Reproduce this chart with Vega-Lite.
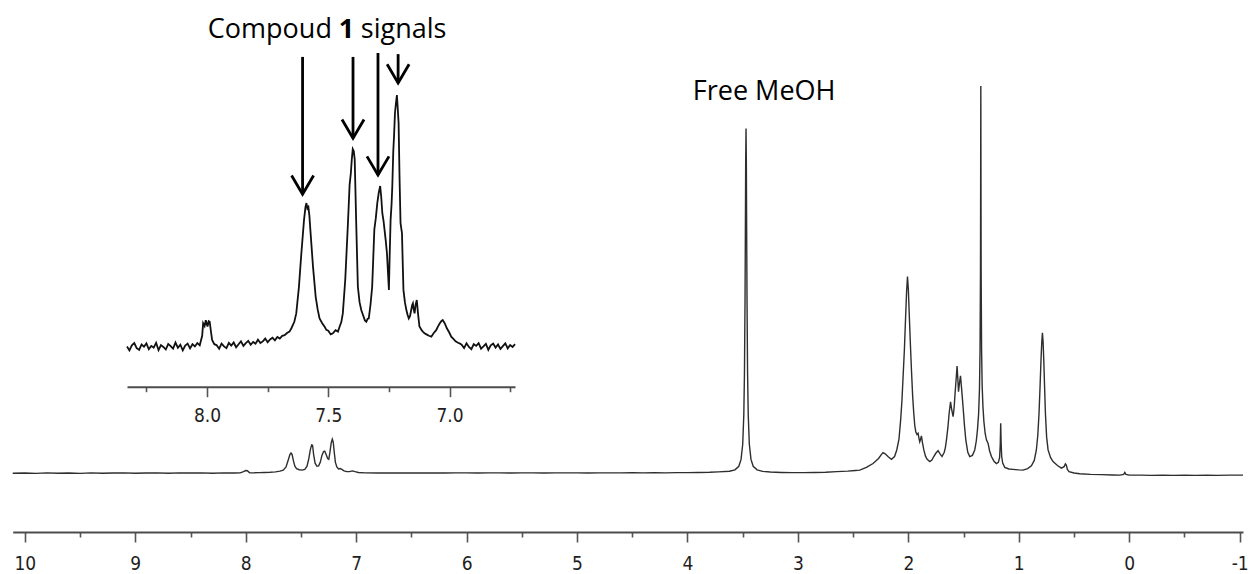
{
  "$schema": "https://vega.github.io/schema/vega-lite/v6.json",
  "width": 1251,
  "height": 532,
  "autosize": {"type": "none"},
  "padding": {"left": 0, "top": 0, "right": 0, "bottom": 42},
  "background": "white",
  "config": {"view": {"stroke": null}},
  "datasets": {
    "main": [
      {"ppm":10.11,"i":0.2},{"ppm":10.0,"i":0.25},{"ppm":9.9,"i":0.15},{"ppm":9.8,"i":0.3},{"ppm":9.7,"i":0.2},{"ppm":9.6,"i":0.25},{"ppm":9.5,"i":0.15},{"ppm":9.4,"i":0.3},{"ppm":9.3,"i":0.2},{"ppm":9.2,"i":0.25},{"ppm":9.1,"i":0.3},{"ppm":9.0,"i":0.2},{"ppm":8.9,"i":0.25},{"ppm":8.8,"i":0.3},{"ppm":8.7,"i":0.2},{"ppm":8.6,"i":0.3},{"ppm":8.5,"i":0.25},{"ppm":8.4,"i":0.3},{"ppm":8.3,"i":0.2},{"ppm":8.2,"i":0.3},{"ppm":8.1,"i":0.25},{"ppm":8.05,"i":0.3},{"ppm":8.02,"i":0.6},{"ppm":8.0,"i":0.9},{"ppm":7.985,"i":0.85},{"ppm":7.965,"i":0.3},{"ppm":7.93,"i":0.3},{"ppm":7.88,"i":0.35},{"ppm":7.83,"i":0.4},{"ppm":7.78,"i":0.45},{"ppm":7.73,"i":0.55},{"ppm":7.69,"i":0.75},{"ppm":7.66,"i":1.0},{"ppm":7.635,"i":1.8},{"ppm":7.615,"i":3.6},{"ppm":7.6,"i":5.0},{"ppm":7.59,"i":5.4},{"ppm":7.58,"i":5.0},{"ppm":7.568,"i":3.4},{"ppm":7.555,"i":2.0},{"ppm":7.54,"i":1.4},{"ppm":7.515,"i":1.1},{"ppm":7.49,"i":1.0},{"ppm":7.465,"i":1.2},{"ppm":7.445,"i":2.0},{"ppm":7.43,"i":3.8},{"ppm":7.415,"i":6.3},{"ppm":7.403,"i":7.5},{"ppm":7.395,"i":7.4},{"ppm":7.385,"i":5.0},{"ppm":7.372,"i":2.8},{"ppm":7.355,"i":2.0},{"ppm":7.34,"i":2.1},{"ppm":7.325,"i":3.0},{"ppm":7.31,"i":4.8},{"ppm":7.295,"i":5.8},{"ppm":7.285,"i":5.9},{"ppm":7.272,"i":5.0},{"ppm":7.258,"i":4.0},{"ppm":7.248,"i":3.8},{"ppm":7.238,"i":5.5},{"ppm":7.226,"i":8.0},{"ppm":7.216,"i":9.0},{"ppm":7.208,"i":8.3},{"ppm":7.198,"i":5.5},{"ppm":7.188,"i":3.0},{"ppm":7.175,"i":1.8},{"ppm":7.16,"i":1.3},{"ppm":7.145,"i":1.4},{"ppm":7.13,"i":1.2},{"ppm":7.11,"i":0.8},{"ppm":7.085,"i":0.6},{"ppm":7.06,"i":0.6},{"ppm":7.035,"i":0.8},{"ppm":7.01,"i":0.6},{"ppm":6.98,"i":0.4},{"ppm":6.92,"i":0.3},{"ppm":6.8,"i":0.25},{"ppm":6.7,"i":0.3},{"ppm":6.6,"i":0.25},{"ppm":6.5,"i":0.3},{"ppm":6.4,"i":0.25},{"ppm":6.3,"i":0.3},{"ppm":6.2,"i":0.25},{"ppm":6.1,"i":0.3},{"ppm":6.0,"i":0.3},{"ppm":5.9,"i":0.25},{"ppm":5.8,"i":0.3},{"ppm":5.7,"i":0.3},{"ppm":5.6,"i":0.25},{"ppm":5.5,"i":0.3},{"ppm":5.4,"i":0.3},{"ppm":5.3,"i":0.25},{"ppm":5.2,"i":0.3},{"ppm":5.1,"i":0.3},{"ppm":5.0,"i":0.3},{"ppm":4.9,"i":0.25},{"ppm":4.8,"i":0.3},{"ppm":4.7,"i":0.3},{"ppm":4.6,"i":0.3},{"ppm":4.5,"i":0.35},{"ppm":4.4,"i":0.3},{"ppm":4.3,"i":0.35},{"ppm":4.2,"i":0.3},{"ppm":4.1,"i":0.35},{"ppm":4.0,"i":0.35},{"ppm":3.9,"i":0.4},{"ppm":3.8,"i":0.45},{"ppm":3.72,"i":0.55},{"ppm":3.62,"i":0.7},
      {"ppm":3.57,"i":1.07},{"ppm":3.535,"i":2.0},{"ppm":3.515,"i":3.75},{"ppm":3.5,"i":7.65},{"ppm":3.49,"i":15.25},{"ppm":3.484,"i":26.25},{"ppm":3.479,"i":44.75},{"ppm":3.476,"i":61.75},{"ppm":3.473,"i":80.15},{"ppm":3.47,"i":89.05},{"ppm":3.467,"i":80.15},{"ppm":3.464,"i":61.75},{"ppm":3.461,"i":44.75},{"ppm":3.456,"i":26.25},{"ppm":3.45,"i":15.25},{"ppm":3.44,"i":7.65},{"ppm":3.425,"i":3.75},{"ppm":3.405,"i":2.0},{"ppm":3.37,"i":1.07},{"ppm":3.32,"i":0.67},{"ppm":3.25,"i":0.5},{"ppm":3.15,"i":0.4},{"ppm":3.05,"i":0.35},{"ppm":2.95,"i":0.35},{"ppm":2.85,"i":0.4},{"ppm":2.75,"i":0.45},{"ppm":2.65,"i":0.6},{"ppm":2.55,"i":0.75},{"ppm":2.48,"i":0.9},{"ppm":2.44,"i":1.0},{"ppm":2.38,"i":1.7},{"ppm":2.32,"i":2.7},{"ppm":2.27,"i":4.0},{"ppm":2.245,"i":5.0},{"ppm":2.23,"i":5.5},{"ppm":2.21,"i":5.2},{"ppm":2.18,"i":4.4},{"ppm":2.153,"i":3.8},{"ppm":2.125,"i":4.5},{"ppm":2.105,"i":6.2},{"ppm":2.085,"i":9.0},{"ppm":2.07,"i":13.9},{"ppm":2.058,"i":19},{"ppm":2.048,"i":25},{"ppm":2.036,"i":32},{"ppm":2.026,"i":39.7},{"ppm":2.016,"i":47},{"ppm":2.008,"i":50.9},{"ppm":2.0,"i":47.5},{"ppm":1.99,"i":39.7},{"ppm":1.981,"i":33},{"ppm":1.972,"i":26.8},{"ppm":1.961,"i":20},{"ppm":1.951,"i":15.6},{"ppm":1.942,"i":12.5},{"ppm":1.933,"i":10.9},{"ppm":1.922,"i":10.2},{"ppm":1.912,"i":10.5},{"ppm":1.904,"i":9.2},{"ppm":1.897,"i":8.3},{"ppm":1.889,"i":9.0},{"ppm":1.882,"i":9.8},{"ppm":1.872,"i":8.0},{"ppm":1.86,"i":6.2},{"ppm":1.845,"i":4.6},{"ppm":1.83,"i":3.8},{"ppm":1.806,"i":3.2},{"ppm":1.787,"i":3.6},{"ppm":1.77,"i":4.5},{"ppm":1.75,"i":5.4},{"ppm":1.731,"i":6.0},{"ppm":1.713,"i":5.2},{"ppm":1.695,"i":4.5},{"ppm":1.675,"i":5.6},{"ppm":1.665,"i":6.8},{"ppm":1.655,"i":8.8},{"ppm":1.642,"i":12},{"ppm":1.631,"i":15.6},{"ppm":1.618,"i":18.6},{"ppm":1.607,"i":16.5},{"ppm":1.595,"i":14.8},{"ppm":1.586,"i":17},{"ppm":1.577,"i":20.8},{"ppm":1.566,"i":25},{"ppm":1.559,"i":27.8},{"ppm":1.552,"i":24.5},{"ppm":1.546,"i":21.2},{"ppm":1.537,"i":23.5},{"ppm":1.528,"i":25.3},{"ppm":1.518,"i":22},{"ppm":1.505,"i":17.4},{"ppm":1.492,"i":12.5},{"ppm":1.48,"i":8.8},{"ppm":1.462,"i":5.6},{"ppm":1.444,"i":4.5},{"ppm":1.42,"i":4.8},{"ppm":1.399,"i":6.2},{"ppm":1.385,"i":8.5},{"ppm":1.374,"i":11.5},{"ppm":1.364,"i":15.5},{"ppm":1.356,"i":22},{"ppm":1.351,"i":32},{"ppm":1.347,"i":52},{"ppm":1.3455,"i":75},{"ppm":1.344,"i":100},{"ppm":1.3425,"i":75},{"ppm":1.341,"i":52},{"ppm":1.337,"i":32},{"ppm":1.332,"i":23},{"ppm":1.325,"i":17.5},{"ppm":1.316,"i":13.5},{"ppm":1.305,"i":10.5},{"ppm":1.293,"i":8.8},{"ppm":1.278,"i":7.9},{"ppm":1.265,"i":6.0},{"ppm":1.248,"i":4.5},{"ppm":1.225,"i":3.3},{"ppm":1.203,"i":2.7},{"ppm":1.185,"i":3.0},{"ppm":1.174,"i":4.2},{"ppm":1.168,"i":7.5},{"ppm":1.164,"i":13.1},{"ppm":1.16,"i":8.0},{"ppm":1.155,"i":4.5},{"ppm":1.146,"i":2.8},{"ppm":1.127,"i":1.7},{"ppm":1.09,"i":1.3},{"ppm":1.052,"i":1.2},{"ppm":1.0,"i":1.05},{"ppm":0.962,"i":1.0},{"ppm":0.92,"i":1.4},{"ppm":0.886,"i":2.1},{"ppm":0.86,"i":3.5},{"ppm":0.841,"i":6.2},{"ppm":0.828,"i":10},{"ppm":0.817,"i":15.6},{"ppm":0.807,"i":23},{"ppm":0.799,"i":29.4},{"ppm":0.792,"i":34},{"ppm":0.786,"i":36.4},{"ppm":0.78,"i":34},{"ppm":0.774,"i":29.4},{"ppm":0.766,"i":22},{"ppm":0.759,"i":15.6},{"ppm":0.748,"i":9.5},{"ppm":0.735,"i":6.2},{"ppm":0.712,"i":4.2},{"ppm":0.69,"i":3.2},{"ppm":0.65,"i":2.2},{"ppm":0.614,"i":1.5},{"ppm":0.59,"i":1.9},{"ppm":0.578,"i":2.6},{"ppm":0.57,"i":2.3},{"ppm":0.56,"i":1.2},{"ppm":0.545,"i":0.6},{"ppm":0.5,"i":0.25},{"ppm":0.448,"i":0.05},{"ppm":0.35,"i":-0.1},{"ppm":0.25,"i":-0.15},{"ppm":0.15,"i":-0.25},{"ppm":0.086,"i":-0.3},{"ppm":0.05,"i":-0.1},{"ppm":0.04,"i":0.4},{"ppm":0.03,"i":-0.1},{"ppm":0.0,"i":-0.3},{"ppm":-0.1,"i":-0.3},{"ppm":-0.2,"i":-0.35},{"ppm":-0.3,"i":-0.3},{"ppm":-0.4,"i":-0.35},{"ppm":-0.5,"i":-0.3},{"ppm":-0.6,"i":-0.35},{"ppm":-0.7,"i":-0.3},{"ppm":-0.8,"i":-0.35},{"ppm":-0.9,"i":-0.3},{"ppm":-1.03,"i":-0.3}
    ],
    "inset": [
      {"ppm":8.33,"i":0.02},{"ppm":8.32,"i":-0.12},{"ppm":8.31,"i":0.06},{"ppm":8.3,"i":0.14},{"ppm":8.29,"i":-0.04},{"ppm":8.28,"i":-0.1},{"ppm":8.27,"i":0.09},{"ppm":8.26,"i":0.01},{"ppm":8.25,"i":0.13},{"ppm":8.24,"i":-0.08},{"ppm":8.23,"i":0.04},{"ppm":8.22,"i":-0.02},{"ppm":8.21,"i":0.15},{"ppm":8.2,"i":-0.11},{"ppm":8.19,"i":0.07},{"ppm":8.18,"i":0.0},{"ppm":8.17,"i":-0.09},{"ppm":8.16,"i":0.11},{"ppm":8.15,"i":0.03},{"ppm":8.14,"i":-0.06},{"ppm":8.13,"i":0.16},{"ppm":8.12,"i":-0.03},{"ppm":8.11,"i":0.08},{"ppm":8.1,"i":-0.12},{"ppm":8.09,"i":0.05},{"ppm":8.08,"i":0.12},{"ppm":8.07,"i":-0.05},{"ppm":8.06,"i":0.1},{"ppm":8.05,"i":0.02},{"ppm":8.04,"i":0.14},{"ppm":8.03,"i":0.06},
      {"ppm":8.02,"i":0.4},{"ppm":8.016,"i":0.85},{"ppm":8.01,"i":0.75},{"ppm":8.005,"i":0.96},{"ppm":7.998,"i":0.73},{"ppm":7.993,"i":0.92},{"ppm":7.989,"i":0.9},{"ppm":7.983,"i":0.5},{"ppm":7.979,"i":0.25},{"ppm":7.97,"i":0.1},{"ppm":7.961,"i":0.07},
      {"ppm":7.95,"i":-0.06},{"ppm":7.94,"i":0.12},{"ppm":7.93,"i":0.02},{"ppm":7.92,"i":-0.04},{"ppm":7.91,"i":0.15},{"ppm":7.9,"i":0.05},{"ppm":7.89,"i":0.16},{"ppm":7.88,"i":-0.01},{"ppm":7.87,"i":0.1},{"ppm":7.86,"i":0.2},{"ppm":7.85,"i":0.04},{"ppm":7.84,"i":0.14},{"ppm":7.83,"i":0.22},{"ppm":7.82,"i":0.08},{"ppm":7.81,"i":0.18},{"ppm":7.8,"i":0.12},{"ppm":7.79,"i":0.26},{"ppm":7.78,"i":0.14},{"ppm":7.77,"i":0.2},{"ppm":7.76,"i":0.3},{"ppm":7.75,"i":0.17},{"ppm":7.74,"i":0.27},{"ppm":7.73,"i":0.33},{"ppm":7.72,"i":0.24},{"ppm":7.71,"i":0.36},{"ppm":7.7,"i":0.3},{"ppm":7.69,"i":0.4},{"ppm":7.68,"i":0.42},{"ppm":7.67,"i":0.5},{"ppm":7.66,"i":0.55},{"ppm":7.652,"i":0.67},{"ppm":7.64,"i":0.9},{"ppm":7.632,"i":1.2},{"ppm":7.621,"i":2.15},{"ppm":7.611,"i":3.35},{"ppm":7.6,"i":4.54},{"ppm":7.594,"i":5.0},{"ppm":7.59,"i":5.14},{"ppm":7.586,"i":4.95},{"ppm":7.582,"i":5.0},{"ppm":7.578,"i":4.7},{"ppm":7.574,"i":4.2},{"ppm":7.563,"i":2.87},{"ppm":7.552,"i":1.8},{"ppm":7.544,"i":1.35},{"ppm":7.536,"i":1.02},{"ppm":7.525,"i":0.85},{"ppm":7.515,"i":0.72},{"ppm":7.508,"i":0.61},{"ppm":7.5,"i":0.58},{"ppm":7.49,"i":0.45},{"ppm":7.481,"i":0.49},{"ppm":7.47,"i":0.6},{"ppm":7.46,"i":0.55},{"ppm":7.453,"i":0.73},{"ppm":7.446,"i":0.9},{"ppm":7.44,"i":1.2},{"ppm":7.43,"i":2.4},{"ppm":7.419,"i":4.4},{"ppm":7.412,"i":5.8},{"ppm":7.407,"i":6.2},{"ppm":7.403,"i":6.7},{"ppm":7.399,"i":7.07},{"ppm":7.395,"i":7.0},{"ppm":7.391,"i":6.7},{"ppm":7.385,"i":4.5},{"ppm":7.378,"i":2.15},{"ppm":7.371,"i":1.6},{"ppm":7.364,"i":1.32},{"ppm":7.355,"i":1.1},{"ppm":7.349,"i":0.95},{"ppm":7.343,"i":0.9},{"ppm":7.338,"i":1.0},{"ppm":7.333,"i":1.02},{"ppm":7.326,"i":1.5},{"ppm":7.319,"i":2.15},{"ppm":7.31,"i":4.2},{"ppm":7.304,"i":4.6},{"ppm":7.298,"i":5.13},{"ppm":7.292,"i":5.5},{"ppm":7.286,"i":5.75},{"ppm":7.282,"i":5.4},{"ppm":7.277,"i":4.77},{"ppm":7.272,"i":4.5},{"ppm":7.268,"i":4.18},{"ppm":7.263,"i":3.8},{"ppm":7.258,"i":3.35},{"ppm":7.254,"i":2.7},{"ppm":7.25,"i":2.04},{"ppm":7.247,"i":3.2},{"ppm":7.243,"i":4.54},{"ppm":7.239,"i":5.1},{"ppm":7.236,"i":5.73},{"ppm":7.232,"i":6.98},{"ppm":7.229,"i":7.5},{"ppm":7.225,"i":8.35},{"ppm":7.221,"i":8.7},{"ppm":7.217,"i":9.0},{"ppm":7.214,"i":8.6},{"ppm":7.21,"i":7.99},{"ppm":7.206,"i":6.0},{"ppm":7.202,"i":4.42},{"ppm":7.196,"i":4.06},{"ppm":7.193,"i":3.0},{"ppm":7.19,"i":2.04},{"ppm":7.184,"i":1.6},{"ppm":7.178,"i":1.32},{"ppm":7.173,"i":1.15},{"ppm":7.168,"i":1.02},{"ppm":7.163,"i":1.1},{"ppm":7.158,"i":1.32},{"ppm":7.154,"i":1.5},{"ppm":7.151,"i":1.56},{"ppm":7.148,"i":1.35},{"ppm":7.144,"i":1.2},{"ppm":7.14,"i":1.5},{"ppm":7.135,"i":1.68},{"ppm":7.13,"i":1.2},{"ppm":7.124,"i":0.73},{"ppm":7.115,"i":0.6},{"ppm":7.11,"i":0.55},{"ppm":7.103,"i":0.49},{"ppm":7.095,"i":0.45},{"ppm":7.085,"i":0.4},{"ppm":7.075,"i":0.37},{"ppm":7.065,"i":0.5},{"ppm":7.055,"i":0.6},{"ppm":7.048,"i":0.73},{"ppm":7.04,"i":0.85},{"ppm":7.034,"i":0.92},{"ppm":7.028,"i":0.96},{"ppm":7.02,"i":0.85},{"ppm":7.011,"i":0.67},{"ppm":7.0,"i":0.5},{"ppm":6.993,"i":0.37},{"ppm":6.985,"i":0.3},{"ppm":6.975,"i":0.2},{"ppm":6.965,"i":0.15},{"ppm":6.959,"i":0.13},
      {"ppm":6.95,"i":0.08},{"ppm":6.94,"i":-0.04},{"ppm":6.93,"i":0.13},{"ppm":6.92,"i":0.0},{"ppm":6.91,"i":-0.08},{"ppm":6.9,"i":0.1},{"ppm":6.89,"i":0.04},{"ppm":6.88,"i":0.14},{"ppm":6.87,"i":-0.06},{"ppm":6.86,"i":0.02},{"ppm":6.85,"i":0.11},{"ppm":6.84,"i":-0.1},{"ppm":6.83,"i":0.06},{"ppm":6.82,"i":0.12},{"ppm":6.81,"i":-0.02},{"ppm":6.8,"i":0.09},{"ppm":6.79,"i":-0.07},{"ppm":6.78,"i":0.03},{"ppm":6.77,"i":0.13},{"ppm":6.76,"i":-0.05},{"ppm":6.75,"i":0.07},{"ppm":6.74,"i":0.0},{"ppm":6.73,"i":0.1}
    ],
    "arrows": [
      {"ppm":7.606,"i":5.46,"top":10.36},
      {"ppm":7.398,"i":7.46,"top":10.36},
      {"ppm":7.295,"i":6.14,"top":10.5},
      {"ppm":7.212,"i":9.43,"top":10.46}
    ],
    "labels": [
      {"ppm":8.343,"i":112.5,"label":"Compoud"},
      {"ppm":6.958,"i":112.5,"label":"signals"},
      {"ppm":3.952,"i":96.4,"label":"Free MeOH"}
    ],
    "boldlabels": [
      {"ppm":7.157,"i":112.5,"label":"1"}
    ]
  },
  "layer": [
    {
      "encoding": {
        "x": {
          "field": "ppm", "type": "quantitative",
          "scale": {"domain": [10.11, -1.03], "range": [12.7, 1243], "nice": false, "zero": false},
          "axis": {
            "orient": "bottom",
            "values": [10, 9.5, 9, 8.5, 8, 7.5, 7, 6.5, 6, 5.5, 5, 4.5, 4, 3.5, 3, 2.5, 2, 1.5, 1, 0.5, 0, -0.5, -1],
            "labelExpr": "datum.value % 1 === 0 ? toString(datum.value) : ''",
            "tickSize": {"condition": {"test": "datum.value % 1 === 0", "value": 10}, "value": 5},
            "labelFont": "DejaVu Sans Condensed",
            "labelFontSize": 19,
            "labelColor": "#1e1e1e",
            "labelPadding": 12,
            "labelFlush": false,
            "labelOverlap": false,
            "domainColor": "#4d4d4d",
            "domainWidth": 2,
            "tickColor": "#555555",
            "tickWidth": 1.6,
            "grid": false,
            "title": null
          }
        },
        "y": {
          "field": "i", "type": "quantitative",
          "scale": {"domain": [0, 100], "range": [474, 86], "nice": false, "zero": false},
          "axis": null
        }
      },
      "layer": [
        {"data": {"name": "main"}, "mark": {"type": "line", "color": "#2e2e2e", "strokeWidth": 1.4}},
        {"data": {"name": "labels"}, "mark": {"type": "text", "align": "left", "baseline": "alphabetic", "font": "Open Sans", "fontSize": 27, "color": "#000000"}, "encoding": {"text": {"field": "label"}}},
        {"data": {"name": "boldlabels"}, "mark": {"type": "text", "align": "left", "baseline": "alphabetic", "font": "Open Sans", "fontSize": 27, "fontWeight": "bold", "color": "#000000"}, "encoding": {"text": {"field": "label"}}}
      ]
    },
    {
      "encoding": {
        "x": {
          "field": "ppm", "type": "quantitative",
          "scale": {"domain": [8.33, 6.73], "range": [127, 515], "nice": false, "zero": false},
          "axis": {
            "orient": "bottom",
            "offset": -145.3,
            "values": [8.25, 8, 7.75, 7.5, 7.25, 7, 6.75],
            "labelExpr": "datum.value % 0.5 === 0 ? format(datum.value, '.1f') : ''",
            "tickSize": {"condition": {"test": "datum.value % 0.5 === 0", "value": 10}, "value": 5},
            "labelFont": "DejaVu Sans Condensed",
            "labelFontSize": 19,
            "labelColor": "#1e1e1e",
            "labelPadding": 10,
            "labelFlush": false,
            "labelOverlap": false,
            "domainColor": "#4d4d4d",
            "domainWidth": 2,
            "tickColor": "#555555",
            "tickWidth": 1.6,
            "grid": false,
            "title": null
          }
        },
        "y": {
          "field": "i", "type": "quantitative",
          "scale": {"domain": [0, 9], "range": [347, 95], "nice": false, "zero": false},
          "axis": null
        }
      },
      "layer": [
        {"data": {"name": "inset"}, "mark": {"type": "line", "color": "#111111", "strokeWidth": 1.8}},
        {"data": {"name": "arrows"}, "mark": {"type": "rule", "color": "#000000", "strokeWidth": 2.8}, "encoding": {"y2": {"field": "top"}}},
        {"data": {"name": "arrows"}, "mark": {"type": "point", "shape": "M-1,-1.7L0,0L1,-1.7", "filled": false, "size": 484, "strokeWidth": 2.8, "color": "#000000", "opacity": 1}}
      ]
    }
  ],
  "resolve": {
    "scale": {"x": "independent", "y": "independent"},
    "axis": {"x": "independent", "y": "independent"}
  }
}
